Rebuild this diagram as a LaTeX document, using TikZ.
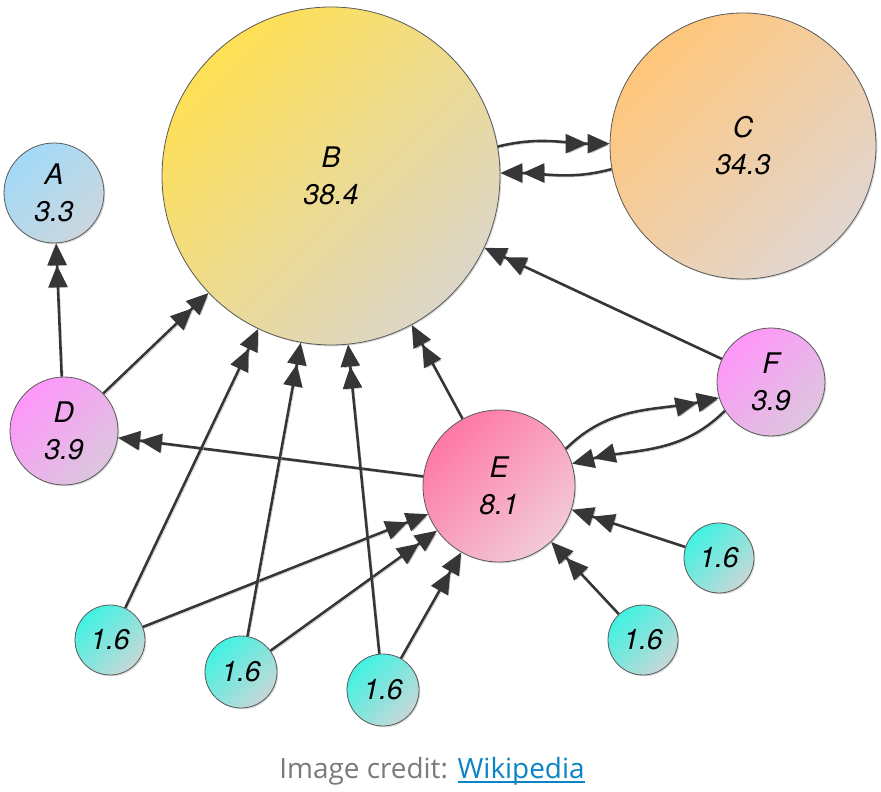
\documentclass[tikz,border=0pt]{standalone}
\usepackage{fontspec}
\setmainfont{TeX Gyre Heros}
\newfontfamily\capfont{Open Sans}
\usetikzlibrary{arrows.meta,shadows}
\definecolor{edgec}{HTML}{363636}
\definecolor{shadowc}{HTML}{B8B8B8}
\definecolor{capgray}{HTML}{7A7A7A}
\definecolor{wikiblue}{HTML}{0A84C4}
\definecolor{bTop}{HTML}{FFE055}
\definecolor{bBot}{HTML}{DCD6C8}
\definecolor{cTop}{HTML}{FFC67A}
\definecolor{cBot}{HTML}{E2D6D0}
\definecolor{aTop}{HTML}{A2DAF8}
\definecolor{aBot}{HTML}{CAD6DE}
\definecolor{dTop}{HTML}{FF96FA}
\definecolor{dBot}{HTML}{DCC6DE}
\definecolor{eTop}{HTML}{FF78A6}
\definecolor{eBot}{HTML}{F2CAD6}
\definecolor{sTop}{HTML}{40F2E2}
\definecolor{sBot}{HTML}{C6D8D8}
\newsavebox{\wikibox}
\tikzset{
  prnode/.style={circle, draw=black!65, line width=0.8bp, inner sep=0pt,
    font=\fontsize{28.5}{37}\selectfont\itshape, align=center,
    drop shadow={shadow xshift=1.3bp, shadow yshift=-1.3bp, opacity=0.3}},
  grad/.style 2 args={top color=#1, bottom color=#2, shading angle=45},
  link/.style={draw=edgec, line width=2.6bp,
    -{Triangle[length=22bp,width=19bp]Triangle[length=22bp,width=19bp]},
    preaction={draw=shadowc, transform canvas={shift={(1.6bp,-1.6bp)}}}},
}
\begin{document}
\begin{tikzpicture}[x=1bp,y=1bp]
\useasboundingbox (0,0) rectangle (881,792);
\node[prnode, minimum size=338bp, grad={bTop}{bBot}] (B) at (331,616) {B\\38.4};
\node[prnode, minimum size=266bp, grad={cTop}{cBot}] (C) at (743,646) {C\\34.3};
\node[prnode, minimum size=100bp, grad={aTop}{aBot}] (A) at (54,599) {A\\3.3};
\node[prnode, minimum size=108bp, grad={dTop}{dBot}] (D) at (64,361) {D\\3.9};
\node[prnode, minimum size=152bp, grad={eTop}{eBot}] (E) at (499,306) {E\\8.1};
\node[prnode, minimum size=108bp, grad={dTop}{dBot}] (F) at (771,410) {F\\3.9};
\node[prnode, minimum size=70bp, grad={sTop}{sBot}] (s1) at (110,152) {1.6};
\node[prnode, minimum size=72bp, grad={sTop}{sBot}] (s2) at (241,120) {1.6};
\node[prnode, minimum size=72bp, grad={sTop}{sBot}] (s3) at (383,102) {1.6};
\node[prnode, minimum size=70bp, grad={sTop}{sBot}] (s4) at (643,152) {1.6};
\node[prnode, minimum size=70bp, grad={sTop}{sBot}] (s5) at (719,234) {1.6};
\node[font=\capfont\fontsize{28}{34}\selectfont, anchor=base, inner sep=0pt] (cap) at (432,13)
  {\textcolor{capgray}{Image credit:} \textcolor{wikiblue}{\sbox{\wikibox}{Wikipedia}\rlap{\rule[-4.5bp]{\wd\wikibox}{2.2bp}}\usebox{\wikibox}}};
\draw[link] (D) -- (A);
\draw[link] (D) -- (B);
\draw[link] (E) -- (D);
\draw[link] (E) -- (B);
\draw[link] (F) -- (B);
\draw[link] (B.10) to[out=14,in=180] (C.179);
\draw[link] (C.190) to[out=195,in=0] (B.1);
\draw[link] (E.29) to[out=45,in=192] (F.197);
\draw[link] (F.212) to[out=225,in=14] (E.17);
\draw[link] (s1) -- (B);
\draw[link] (s1) -- (E);
\draw[link] (s2) -- (B);
\draw[link] (s2) -- (E);
\draw[link] (s3) -- (B);
\draw[link] (s3) -- (E);
\draw[link] (s4) -- (E);
\draw[link] (s5) -- (E);
\end{tikzpicture}
\end{document}
